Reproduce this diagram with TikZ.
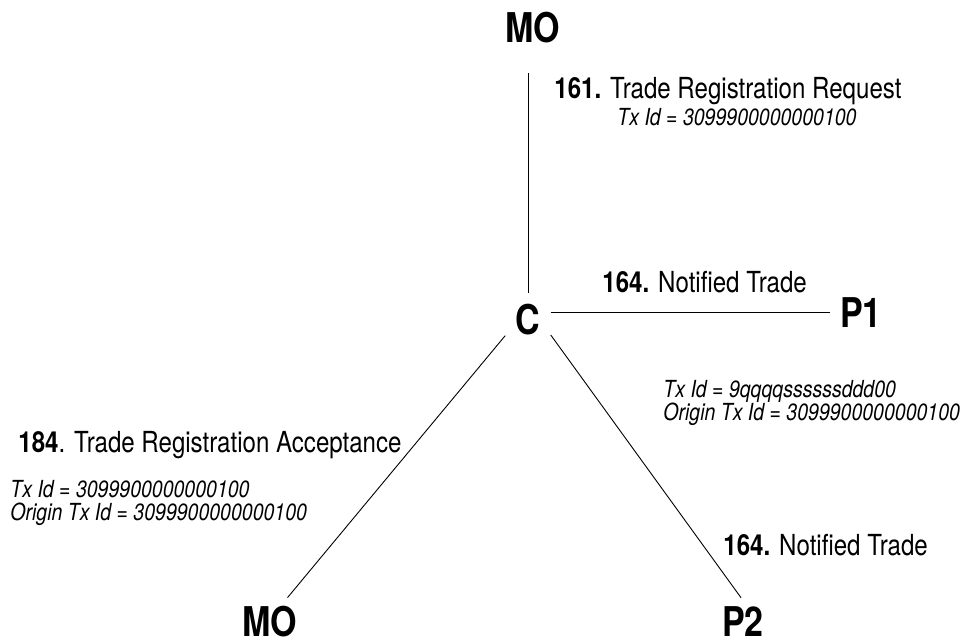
\documentclass[tikz,border=0pt]{standalone}
\usepackage{fontspec}
\setmainfont{TeX Gyre Heros}[FakeStretch=0.83]
\usetikzlibrary{calc}
\tikzset{
  party/.style={inner sep=10pt, anchor=base, font=\fontsize{41}{41}\selectfont\bfseries},
  msg/.style={inner sep=0pt, anchor=base west, font=\fontsize{29}{29}\selectfont},
  txid/.style={inner sep=0pt, anchor=base west, align=left, font=\fontsize{23.5}{23}\selectfont\itshape},
}

\begin{document}
\begin{tikzpicture}[x=1pt, y=-1pt, line width=0.9pt]
    \useasboundingbox (0,0) rectangle (968,641);
    % set parties
    \node [party] (mo1) at (533,42) {MO};
    \node [party] (c) at (528,334) {C};
    \node [party] (p1) at (861,327) {P1};
    \node [party, inner sep=3pt] (mo2) at (270,636) {MO};
    \node [party, inner sep=3pt] (p2) at (743,636) {P2};
    % draw figure
    \draw [shorten >=20pt] (c.north) -- (c.north |- mo1.south);
    \draw (c.east |- p1.west) -- (p1.west);
    \draw [shorten >=6pt] (c.216) -- (mo2.54);
    \draw [shorten >=6pt] (c.-35) -- (p2.85);
    % add labels (multi-line nodes sit on their last line)
    \node [msg] (m161) at (554,98) {\textbf{161.} Trade Registration Request};
    \node [txid] (t161) at (617,125) {Tx Id = 3099900000000100};
    \node [msg] (m164a) at (602,292) {\textbf{164.} Notified Trade};
    \node [txid] (t164) at (663,420) {Tx Id = 9qqqqssssssddd00\\Origin Tx Id = 3099900000000100};
    \node [msg] (m184) at (18,452) {\textbf{184}. Trade Registration Acceptance};
    \node [txid] (t184) at (10,520) {Tx Id = 3099900000000100\\Origin Tx Id = 3099900000000100};
    \node [msg] (m164b) at (723,555) {\textbf{164.} Notified Trade};
\end{tikzpicture}
\end{document}
